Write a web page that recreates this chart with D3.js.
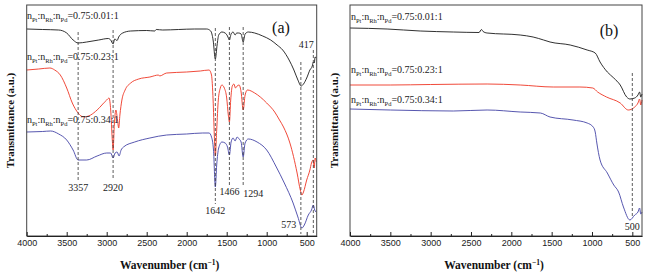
<!DOCTYPE html>
<html><head><meta charset="utf-8">
<script src="https://cdn.jsdelivr.net/npm/d3@7"></script>
<style>body{margin:0;background:#fff}svg{display:block}</style>
</head><body>
<svg id="c" width="648" height="276"></svg>
<script>
// ---- data (wavenumber cm-1, transmittance a.u.) ----
const seriesNames = [["0.75:0.01:1"],["0.75:0.23:1"],["0.75:0.34:1"]];
const aBlack = [[4000,207],[3800,206.5],[3600,206],[3500,203],[3420,196],[3357,193],[3250,194],[3100,196],[2980,197.5],[2950,196],[2920,192],[2900,197],[2870,195.5],[2850,199],[2800,203],[2700,205],[2500,205.5],[2400,205],[2380,206.5],[2300,206],[2100,206.5],[1900,207],[1750,207],[1700,205],[1670,196],[1642,177],[1620,191],[1600,201],[1560,204],[1520,203],[1490,200],[1466,196],[1445,202],[1420,204],[1395,201],[1375,203],[1350,203],[1320,202],[1294,194],[1270,202],[1230,204],[1150,203],[1050,200],[950,196],[870,191],[800,186],[720,176],[660,166],[610,156],[570,150],[540,152],[500,158],[460,166],[430,170],[417,174],[405,173],[395,179],[380,178]];
const aRed = [[4000,166],[3850,167],[3710,168],[3650,166],[3580,161],[3500,148],[3430,133],[3357,123],[3290,119],[3200,121],[3120,126],[3000,136],[2970,138],[2950,126],[2930,96],[2920,86],[2905,111],[2885,126],[2865,116],[2850,108],[2835,121],[2810,136],[2770,146],[2700,153],[2600,157],[2460,159],[2350,161],[2340,160],[2250,163],[2000,164],[1830,165],[1720,166],[1690,161],[1670,136],[1655,101],[1642,80],[1625,106],[1605,136],[1580,148],[1560,151],[1530,148],[1500,138],[1480,121],[1466,114],[1450,136],[1430,150],[1410,152],[1390,148],[1370,150],[1345,151],[1320,144],[1294,126],[1270,141],[1240,146],[1150,143],[1080,139],[1000,133],[900,124],[840,116],[790,109],[710,93],[620,63],[580,46],[560,41],[540,44],[500,56],[460,66],[440,73],[420,76],[405,68],[395,78],[380,74]];
const aBlue = [[4000,104],[3800,104.5],[3700,105],[3600,102],[3500,96],[3420,86],[3357,76],[3250,76],[3120,80],[3000,83],[2950,83],[2920,78],[2895,83],[2870,84],[2845,80],[2820,86],[2790,89],[2650,94],[2460,98],[2250,101],[2000,102],[1800,103],[1720,103],[1690,99],[1665,86],[1642,49],[1625,71],[1600,88],[1560,94],[1520,93],[1490,89],[1466,81],[1445,94],[1420,98],[1395,95],[1370,99],[1345,97],[1320,94],[1294,79],[1270,93],[1230,97],[1120,94],[1000,86],[880,69],[780,53],[670,33],[610,19],[560,8],[530,11],[480,21],[440,26],[417,31],[400,26],[385,24]];
const bBlack = [[4000,208],[3540,207],[3130,205],[2720,204],[2400,203.5],[2370,206.5],[2350,204.5],[2300,203],[1890,201],[1730,199],[1600,196],[1520,194],[1270,191],[1060,186],[960,183],[900,174],[810,164],[730,158],[650,151],[570,139],[530,137],[470,138],[430,141],[410,144],[395,139],[380,142]];
const bRed = [[4000,151],[3500,151],[3000,151.5],[2300,152],[1890,151],[1480,149],[1150,149],[990,148],[930,144],[820,139],[650,133],[550,126],[470,129],[430,133],[410,137],[395,131],[380,136]];
const bBlue = [[4000,127],[3500,126],[2720,125],[2300,126],[1890,124],[1640,123],[1520,119],[1235,116],[1060,113],[985,109],[960,104],[940,93],[900,76],[810,63],[730,51],[670,44],[610,29],[530,16],[470,21],[430,24],[410,28],[395,22],[380,24]];
const majorTicks = [4000,3500,3000,2500,2000,1500,1000,500];
const minorTicks = [3750,3250,2750,2250,1750,1250,750];
const peaksA = [3357,2920,1642,1466,1294,573,417];
const peaksB = [500];

// ---- layout / styles ----
const colors = ["#1a1a1a","#ee3524","#4444a6"];
const svg = d3.select("#c");
const serif = "'Liberation Serif','Times New Roman',serif";
const sans = "'Liberation Sans',Arial,sans-serif";

const panels = [
  {left:26.7,right:316.7,top:5,bottom:236,dom:[4000,375],data:[aBlack,aRed,aBlue],tag:"(a)",tagX:281,tagY:33,
   ylabX:10,labels:[{x:27,y:19},{x:27,y:60},{x:27,y:123}],
   peaks:peaksA,
   ann:[{y0:32,y1:180,lx:0,ly:191},{y0:30,y1:180,lx:0,ly:191},{y0:28,y1:204,lx:0,ly:214},{y0:27,y1:185,lx:0,ly:195},{y0:27,y1:187,lx:10,ly:197},{y0:62,y1:234,lx:-12,ly:228},{y0:50,y1:234,lx:-7,ly:48}]},
  {left:350,right:642,top:5,bottom:236,dom:[4000,380],data:[bBlack,bRed,bBlue],tag:"(b)",tagX:609,tagY:36,
   ylabX:334,labels:[{x:351,y:20},{x:351,y:73},{x:351,y:103}],
   peaks:peaksB,
   ann:[{y0:73,y1:218,lx:0,ly:230}]}
];

panels.forEach(p=>{
  const x = d3.scaleLinear().domain(p.dom).range([p.left,p.right]);
  const y = d3.scaleLinear().domain([0,231]).range([p.bottom,p.top]);
  const g = svg.append("g");
  // curves
  const line = d3.line().x(d=>x(d[0])).y(d=>y(d[1])).curve(d3.curveMonotoneX);
  p.data.forEach((s,i)=>{
    g.append("path").datum(s).attr("d",line).attr("fill","none")
      .attr("stroke",colors[i]).attr("stroke-width",0.9);
  });
  // dashed annotation lines
  p.peaks.forEach((w,i)=>{
    const a=p.ann[i];
    g.append("line").attr("x1",x(w)).attr("x2",x(w)).attr("y1",a.y0).attr("y2",a.y1)
      .attr("stroke","#333").attr("stroke-width",0.8).attr("stroke-dasharray","3,2");
    g.append("text").attr("x",x(w)+a.lx).attr("y",a.ly).attr("text-anchor","middle")
      .attr("font-family",serif).attr("font-size",10).attr("fill","#222").text(w);
  });
  // frame
  g.append("rect").attr("x",p.left).attr("y",p.top).attr("width",p.right-p.left).attr("height",p.bottom-p.top)
    .attr("fill","none").attr("stroke","#444").attr("stroke-width",1);
  // axis
  const ax = g.append("g").attr("transform",`translate(0,${p.bottom})`)
    .call(d3.axisBottom(x).tickValues(majorTicks).tickSizeInner(-4).tickSizeOuter(0).tickPadding(4).tickFormat(d3.format("d")));
  ax.select(".domain").attr("stroke","#222");
  ax.selectAll("text").attr("font-family",sans).attr("font-size",9).attr("fill","#222");
  ax.selectAll("line").attr("stroke","#222");
  const mx = g.append("g").attr("transform",`translate(0,${p.bottom})`)
    .call(d3.axisBottom(x).tickValues(minorTicks).tickSizeInner(-2).tickSizeOuter(0).tickFormat(""));
  mx.select(".domain").remove();
  mx.selectAll("line").attr("stroke","#222");
  // x title
  const t = g.append("text").attr("x",(p.left+p.right)/2-2).attr("y",269).attr("text-anchor","middle")
    .attr("font-family",serif).attr("font-size",11.5).attr("font-weight","bold").attr("fill","#111");
  t.append("tspan").text("Wavenumber  (cm");
  t.append("tspan").attr("dy",-4).attr("font-size",7.5).text("\u22121");
  t.append("tspan").attr("dy",4).text(")");
  // y title
  g.append("text").attr("transform",`translate(${p.ylabX+4},${(p.top+p.bottom)/2}) rotate(-90)`)
    .attr("text-anchor","middle").attr("font-family",serif).attr("font-size",11).attr("font-weight","bold")
    .attr("fill","#111").text("Transmittance (a.u.)");
  // tag
  g.append("text").attr("x",p.tagX).attr("y",p.tagY).attr("text-anchor","middle")
    .attr("font-family",serif).attr("font-size",16).attr("fill","#111").text(p.tag);
  // series labels
  p.labels.forEach((l,i)=>{
    const tx = g.append("text").attr("x",l.x).attr("y",l.y).attr("font-family",serif).attr("font-size",10).attr("fill","#222");
    const parts=[["n",""],["Pt","s"],[":n",""],["Rh","s"],[":n",""],["Pd","s"],["="+seriesNames[i][0],""]];
    let sub=false;
    parts.forEach(([s,k])=>{
      const ts=tx.append("tspan").text(s);
      if(k==="s"){ts.attr("font-size",6.5).attr("dy",sub?0:2.5);sub=true;}
      else{ if(sub){ts.attr("dy",-2.5);sub=false;} }
    });
  });
});
</script>
</body></html>
